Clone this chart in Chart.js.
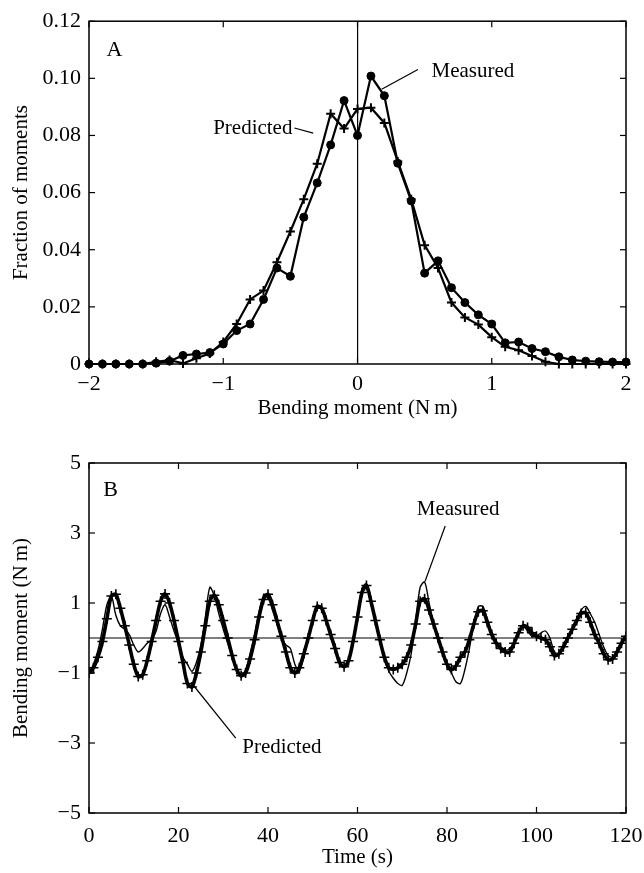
<!DOCTYPE html>
<html><head><meta charset="utf-8">
<script src="https://cdn.jsdelivr.net/npm/chart.js@4.4.1/dist/chart.umd.min.js"></script>
<style>
html,body{margin:0;padding:0;background:#fff;}
#wrapA{position:absolute;left:0;top:0;width:644px;height:430px;}
#wrapB{position:absolute;left:0;top:440px;width:644px;height:433px;}
</style></head><body>
<div id="wrapA"><canvas id="cA"></canvas></div>
<div id="wrapB"><canvas id="cB"></canvas></div>
<script>
// ---------- Panel A data ----------
const momentBins = [-2,-1.9,-1.8,-1.7,-1.6,-1.5,-1.4,-1.3,-1.2,-1.1,-1,-0.9,-0.8,-0.7,-0.6,-0.5,-0.4,-0.3,-0.2,-0.1,0,0.1,0.2,0.3,0.4,0.5,0.6,0.7,0.8,0.9,1,1.1,1.2,1.3,1.4,1.5,1.6,1.7,1.8,1.9,2];
const measuredFraction = [0,0,0,0,0,0.0003,0.001,0.003,0.0035,0.004,0.007,0.0117,0.014,0.0226,0.0336,0.0307,0.0514,0.0634,0.0767,0.0922,0.080,0.1008,0.0939,0.0703,0.0571,0.0318,0.0361,0.0267,0.0215,0.0172,0.014,0.0074,0.0077,0.0054,0.0043,0.0025,0.0014,0.001,0.0008,0.0007,0.0007];
const predictedFraction = [0,0,0,0,0,0.0008,0.0014,0.0002,0.002,0.0037,0.0077,0.014,0.0226,0.0257,0.0356,0.0464,0.0577,0.0701,0.0876,0.0824,0.0893,0.0897,0.0844,0.0709,0.0577,0.0416,0.0336,0.0215,0.0163,0.0138,0.0094,0.006,0.0048,0.0028,0.0008,0,0,0,0,0,0];
const xTicksA = [-2,-1,0,1,2];
const yTicksA = [0,0.02,0.04,0.06,0.08,0.10,0.12];

// ---------- Panel B data ----------
const timeSec = [0,1,2,3,4,5,6,7,8,9,10,11,12,13,14,15,16,17,18,19,20,21,22,23,24,25,26,27,28,29,30,31,32,33,34,35,36,37,38,39,40,41,42,43,44,45,46,47,48,49,50,51,52,53,54,55,56,57,58,59,60,61,62,63,64,65,66,67,68,69,70,71,72,73,74,75,76,77,78,79,80,81,82,83,84,85,86,87,88,89,90,91,92,93,94,95,96,97,98,99,100,101,102,103,104,105,106,107,108,109,110,111,112,113,114,115,116,117,118,119,120];
const predictedMoment = [
-1.00,-0.85,-0.55,-0.10,0.55,1.20,1.25,0.85,0.35,-0.20,
-0.75,-1.10,-1.05,-0.65,-0.10,0.50,1.05,1.26,1.00,0.50,
-0.10,-0.70,-1.30,-1.40,-1.00,-0.40,0.35,1.05,1.22,0.95,
0.50,0.00,-0.50,-0.90,-1.08,-1.00,-0.60,-0.05,0.60,1.10,
1.25,0.95,0.50,0.05,-0.40,-0.85,-1.00,-0.85,-0.45,0.00,
0.50,0.90,0.85,0.50,0.10,-0.30,-0.70,-0.82,-0.65,-0.10,
0.60,1.30,1.50,1.05,0.50,-0.05,-0.55,-0.85,-0.90,-0.85,
-0.75,-0.55,-0.20,0.40,1.05,1.12,0.80,0.40,0.00,-0.40,
-0.75,-0.90,-0.80,-0.55,-0.40,-0.05,0.40,0.75,0.78,0.45,
0.10,-0.15,-0.30,-0.40,-0.40,-0.15,0.15,0.35,0.30,0.15,
0.05,0.00,-0.05,-0.25,-0.50,-0.45,-0.25,0.00,0.25,0.50,
0.70,0.72,0.45,0.10,-0.15,-0.45,-0.62,-0.60,-0.40,-0.15,0.05];
const measuredMoment = [
-1.00,-0.75,-0.35,0.25,0.95,1.20,0.65,0.35,0.25,0.10,
-0.20,-0.40,-0.30,-0.15,-0.05,0.20,0.70,0.95,0.60,0.20,
-0.15,-0.55,-0.75,-0.95,-0.70,-0.20,0.60,1.45,1.20,0.70,
0.25,-0.15,-0.55,-0.95,-1.05,-0.90,-0.45,0.10,0.75,1.20,
1.15,0.80,0.40,0.00,-0.20,-0.30,-0.75,-0.95,-0.55,0.00,
0.55,0.95,0.80,0.45,0.05,-0.35,-0.70,-0.80,-0.60,-0.05,
0.70,1.40,1.55,1.05,0.45,-0.10,-0.60,-0.95,-1.15,-1.30,
-1.35,-1.00,-0.45,0.50,1.45,1.60,1.00,0.40,-0.05,-0.45,
-0.80,-1.00,-1.25,-1.30,-0.90,-0.30,0.40,0.90,0.90,0.55,
0.15,-0.10,-0.25,-0.35,-0.30,-0.10,0.20,0.35,0.20,0.05,
0.05,0.15,0.20,0.00,-0.40,-0.45,-0.30,-0.05,0.25,0.55,
0.80,0.90,0.70,0.45,0.10,-0.25,-0.50,-0.55,-0.35,-0.10,0.10];
const xTicksB = [0,20,40,60,80,100,120];
const yTicksB = [-5,-3,-1,1,3,5];

// ---------- helpers ----------
const FONT = 'Liberation Serif';
const minus = v => (v < 0 ? '\u2212' + Math.abs(v) : String(v));
const pairs = (xs, ys) => xs.map((x, i) => ({x, y: ys[i]}));

const frameTicks = {
  id: 'frameTicks',
  afterDatasetsDraw(chart, args, opts) {
    const {ctx, chartArea: a, scales: {x, y}} = chart;
    ctx.save();
    ctx.strokeStyle = '#000';
    ctx.lineWidth = 1.5;
    ctx.strokeRect(a.left, a.top, a.right - a.left, a.bottom - a.top);
    ctx.lineWidth = 1.2;
    const L = 6;
    const seg = (x1, y1, x2, y2) => { ctx.beginPath(); ctx.moveTo(x1, y1); ctx.lineTo(x2, y2); ctx.stroke(); };
    x.ticks.forEach(t => { const p = x.getPixelForValue(t.value); seg(p, a.bottom, p, a.bottom - L); seg(p, a.top, p, a.top + L); });
    y.ticks.forEach(t => { const p = y.getPixelForValue(t.value); seg(a.left, p, a.left + L, p); seg(a.right, p, a.right - L, p); });
    ctx.fillStyle = '#000';
    ctx.textBaseline = 'middle';
    (opts.notes || []).forEach(n => {
      ctx.font = n.size + 'px "' + FONT + '"';
      ctx.textAlign = n.align || 'center';
      ctx.fillText(n.text, x.getPixelForValue(n.x), y.getPixelForValue(n.y));
    });
    ctx.lineWidth = 1.2;
    (opts.leaders || []).forEach(l => {
      seg(x.getPixelForValue(l[0]), y.getPixelForValue(l[1]), x.getPixelForValue(l[2]), y.getPixelForValue(l[3]));
    });
    ctx.restore();
  }
};

const fontTick = {family: FONT, size: 22};
const fontTitle = {family: FONT, size: 21};
const noSidePad = s => { s.paddingLeft = 0; s.paddingRight = 0; };

// ---------- Chart A ----------
new Chart(document.getElementById('cA'), {
  type: 'line',
  data: {
    datasets: [
      {label: 'Measured', data: pairs(momentBins, measuredFraction), borderColor: '#000', backgroundColor: '#000',
       borderWidth: 2.2, pointStyle: 'circle', pointRadius: 4, pointBorderWidth: 1, tension: 0, clip: false},
      {label: 'Predicted', data: pairs(momentBins, predictedFraction), borderColor: '#000', backgroundColor: '#000',
       borderWidth: 2.2, pointStyle: 'cross', pointRadius: 4.5, pointBorderWidth: 2, tension: 0, clip: false}
    ]
  },
  options: {
    responsive: true, maintainAspectRatio: false, animation: false,
    layout: {padding: {top: 16, right: 18, left: 0, bottom: 0}},
    plugins: {legend: {display: false}, tooltip: {enabled: false},
      frameTicks: {
        notes: [
          {text: 'A', x: -1.81, y: 0.1098, size: 22},
          {text: 'Predicted', x: -0.78, y: 0.0824, size: 21},
          {text: 'Measured', x: 0.86, y: 0.1024, size: 21}
        ],
        leaders: [[-0.47, 0.0826, -0.33, 0.0808], [0.45, 0.1031, 0.18, 0.0962]]
      }},
    scales: {
      x: {type: 'linear', min: -2, max: 2,
        afterBuildTicks: s => { s.ticks = xTicksA.map(v => ({value: v})); },
        afterFit: s => { s.height = 66; noSidePad(s); },
        grid: {drawTicks: false, color: c => (c.tick && c.tick.value === 0 ? '#000' : 'rgba(0,0,0,0)'), lineWidth: 1.2},
        border: {display: false},
        ticks: {font: fontTick, color: '#000', padding: 7, maxRotation: 0, callback: v => minus(v)},
        title: {display: true, text: 'Bending moment (N\u2009m)', font: fontTitle, color: '#000', padding: {top: 0, bottom: 9}}
      },
      y: {type: 'linear', min: 0, max: 0.12,
        afterBuildTicks: s => { s.ticks = yTicksA.map(v => ({value: v})); },
        afterFit: s => { s.width = 89; },
        grid: {display: false, drawTicks: false},
        border: {display: false},
        ticks: {font: fontTick, color: '#000', padding: 8, callback: v => (v === 0 ? '0' : v.toFixed(2))},
        title: {display: true, text: 'Fraction of moments', font: fontTitle, color: '#000', padding: {top: 9, bottom: 0}}
      }
    }
  },
  plugins: [frameTicks]
});

// ---------- Chart B ----------
new Chart(document.getElementById('cB'), {
  type: 'line',
  data: {
    datasets: [
      {label: 'Predicted', data: pairs(timeSec, predictedMoment), borderColor: '#000', backgroundColor: '#000',
       borderWidth: 3.6, pointStyle: 'cross', pointRadius: 5, pointBorderWidth: 1.6, tension: 0.3},
      {label: 'Measured', data: pairs(timeSec, measuredMoment), borderColor: '#000', backgroundColor: '#000',
       borderWidth: 1.4, pointRadius: 0, tension: 0.3}
    ]
  },
  options: {
    responsive: true, maintainAspectRatio: false, animation: false,
    layout: {padding: {top: 23, right: 18, left: 0, bottom: 0}},
    plugins: {legend: {display: false}, tooltip: {enabled: false},
      frameTicks: {
        notes: [
          {text: 'B', x: 4.8, y: 4.23, size: 22},
          {text: 'Measured', x: 82.5, y: 3.66, size: 21},
          {text: 'Predicted', x: 43.1, y: -3.14, size: 21}
        ],
        leaders: [[79.6, 3.2, 75.1, 1.62], [32.8, -2.86, 23, -1.3]]
      }},
    scales: {
      x: {type: 'linear', min: 0, max: 120,
        afterBuildTicks: s => { s.ticks = xTicksB.map(v => ({value: v})); },
        afterFit: s => { s.height = 60; noSidePad(s); },
        grid: {display: false, drawTicks: false},
        border: {display: false},
        ticks: {font: fontTick, color: '#000', padding: 10, maxRotation: 0, callback: v => minus(v)},
        title: {display: true, text: 'Time (s)', font: fontTitle, color: '#000', padding: {top: 0, bottom: 3}}
      },
      y: {type: 'linear', min: -5, max: 5,
        afterBuildTicks: s => { s.ticks = yTicksB.map(v => ({value: v})); },
        afterFit: s => { s.width = 89; },
        grid: {drawTicks: false, color: 'rgba(0,0,0,0)'},
        border: {display: false},
        ticks: {font: fontTick, color: '#000', padding: 8, callback: v => minus(v)},
        title: {display: true, text: 'Bending moment (N\u2009m)', font: fontTitle, color: '#000', padding: {top: 9, bottom: 0}}
      }
    }
  },
  plugins: [frameTicks, {
    id: 'zeroLine',
    beforeDatasetsDraw(chart) {
      const {ctx, chartArea: a, scales: {y}} = chart;
      const p = y.getPixelForValue(0);
      ctx.save(); ctx.strokeStyle = '#000'; ctx.lineWidth = 1.2;
      ctx.beginPath(); ctx.moveTo(a.left, p); ctx.lineTo(a.right, p); ctx.stroke(); ctx.restore();
    }
  }]
});
</script>
</body></html>
